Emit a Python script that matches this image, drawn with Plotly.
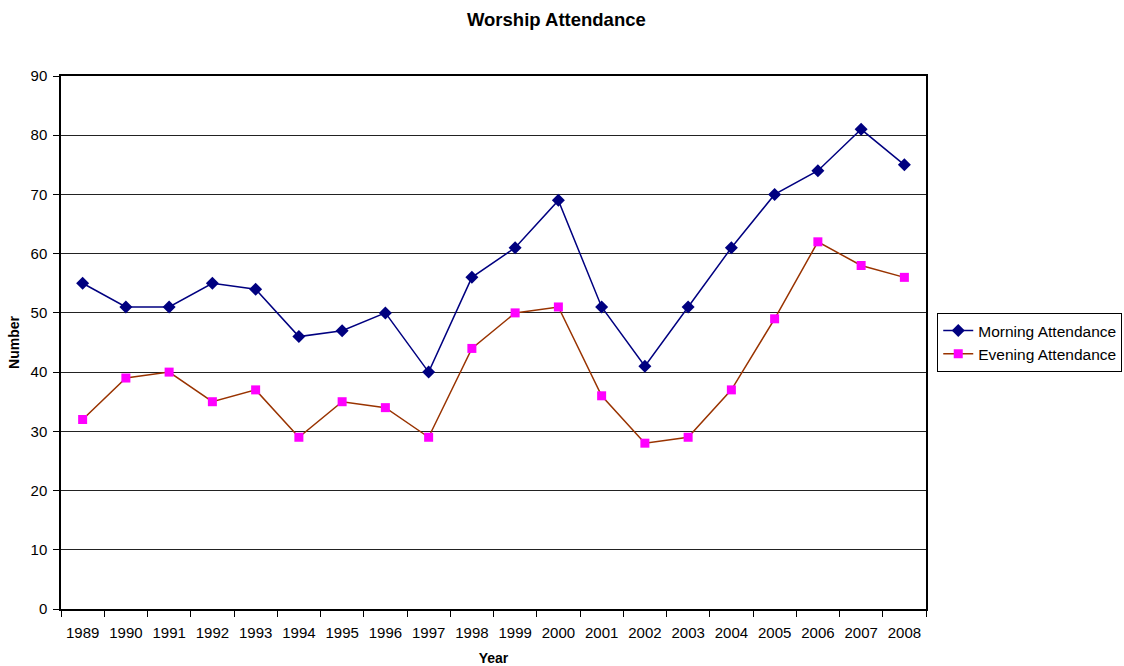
import plotly.graph_objects as go

years = [str(y) for y in range(1989, 2009)]
morning = [55, 51, 51, 55, 54, 46, 47, 50, 40, 56, 61, 69, 51, 41, 51, 61, 70, 74, 81, 75]
evening = [32, 39, 40, 35, 37, 29, 35, 34, 29, 44, 50, 51, 36, 28, 29, 37, 49, 62, 58, 56]

font_family = "Liberation Sans, Arial, sans-serif"

fig = go.Figure()
fig.add_trace(go.Scatter(
    x=years, y=morning, name="Morning Attendance", mode="lines+markers",
    line=dict(color="#000080", width=1.5),
    marker=dict(symbol="diamond", size=10, color="#000080"),
))
fig.add_trace(go.Scatter(
    x=years, y=evening, name="Evening Attendance", mode="lines+markers",
    line=dict(color="#993300", width=1.5),
    marker=dict(symbol="square", size=9, color="#FF00FF"),
))

fig.update_layout(
    width=1124, height=666,
    margin=dict(l=61, r=198, t=76, b=57, autoexpand=False),
    paper_bgcolor="white", plot_bgcolor="white",
    font=dict(family=font_family, size=15, color="black"),
    title=dict(text="<b>Worship Attendance</b>", x=0.495, xref="container",
               y=0.97, yanchor="middle", font=dict(size=18.5)),
    showlegend=True,
    legend=dict(x=1.013, xanchor="left", y=0.5, yanchor="middle",
                bordercolor="black", borderwidth=1, font=dict(size=15.5),
                tracegroupgap=0, itemwidth=30),
    xaxis=dict(
        type="category", range=[-0.5, 19.5], automargin=False,
        title=dict(text="<b>Year</b>", font=dict(size=14), standoff=14),
        showline=True, linecolor="black", linewidth=1.5, mirror=True,
        ticks="outside", ticklen=6, tickcolor="black", tickson="boundaries",
        ticklabelstandoff=9,
        showgrid=False, tickfont=dict(size=15),
    ),
    yaxis=dict(
        range=[0, 90], dtick=10, automargin=False,
        title=dict(text="<b>Number</b>", font=dict(size=14), standoff=8),
        showline=True, linecolor="black", linewidth=1.5, mirror=True,
        ticks="outside", ticklen=6, tickcolor="black",
        ticklabelstandoff=3,
        showgrid=True, gridcolor="#222222", gridwidth=1, zeroline=False,
        tickfont=dict(size=15),
    ),
)

fig.write_html("out.html")
